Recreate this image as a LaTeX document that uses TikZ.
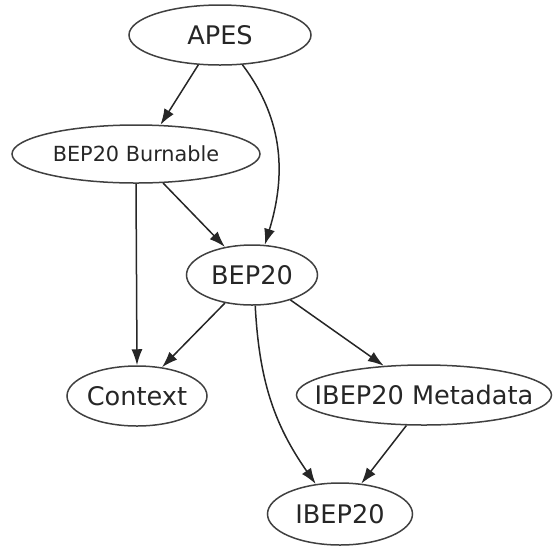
\documentclass[tikz,border=0pt]{standalone}
\usepackage{fontspec}
\setmainfont{DejaVu Sans}
\usetikzlibrary{arrows.meta,shapes.geometric}

\tikzset{
  mod/.style={ellipse, draw=black!75, line width=0.75pt, inner sep=0pt,
    minimum height=30pt, font=\fontsize{12.8}{14}\selectfont, text=black!85},
  dep/.style={-{Latex[length=8pt,width=5.5pt]}, black!85, line width=0.75pt},
}
\newcommand{\modname}[1]{\makebox[0pt]{#1}}

\begin{document}
\begin{tikzpicture}[x=0.5pt,y=-0.5pt]
    \useasboundingbox (0,0) rectangle (553,548);

      \node(apes) at (220,35) [mod, minimum width=91pt] {\modname{APES}};
      \node(burn) at (136,154) [mod, minimum width=124pt, minimum height=29pt,
        font=\fontsize{10.4}{12}\selectfont] {\modname{BEP20 Burnable}};
      \node(bep) at (252,275) [mod, minimum width=65.5pt] {\modname{BEP20}};

      \node(ctx) at (137,396) [mod, minimum width=70pt] {\modname{Context}};
      \node(meta) at (424,395) [mod, minimum width=127.5pt] {\modname{IBEP20 Metadata}};

      \node(ibep) at (340,514) [mod, minimum width=72.5pt, minimum height=31pt] {\modname{IBEP20}};

      % imports
      \draw (apes.234) edge[dep] (burn.50);
      \draw (apes.307) edge[dep, out=-53, in=73] (bep.67);
      \draw (burn.south) edge[dep] (ctx.north);
      \draw (burn.313) edge[dep] (bep.134);
    \draw (bep.226) edge[dep] (ctx.49);
    \draw (bep.327) edge[dep] (meta.144);
    \draw (bep.276) edge[dep, out=-87, in=125] (ibep.129);
    \draw (meta.240) edge[dep] (ibep.55);
  \end{tikzpicture}
\end{document}
